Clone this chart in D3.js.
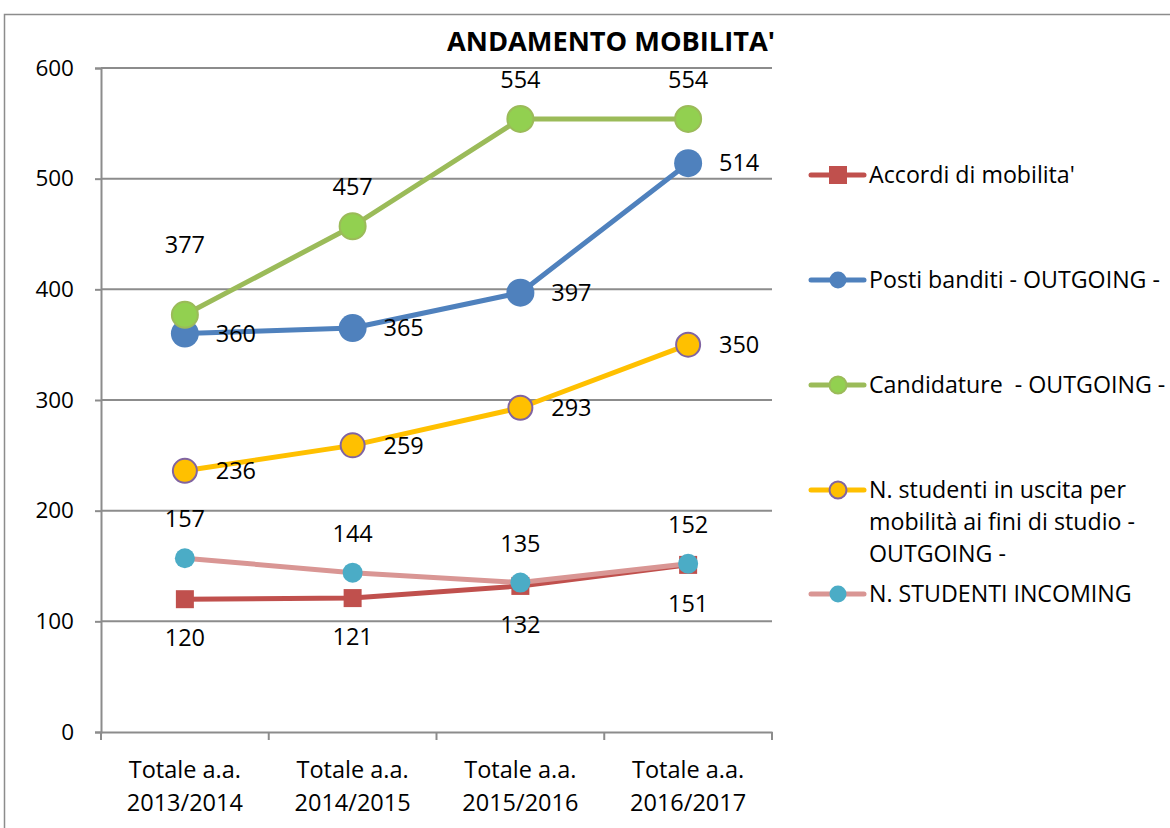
<!DOCTYPE html>
<html><head><meta charset="utf-8">
<script src="https://cdn.jsdelivr.net/npm/d3@7"></script>
<style>body{margin:0;background:#fff;} svg{display:block;font-family:"Open Sans","Noto Sans",sans-serif;}</style>
</head><body><svg id="c" width="1170" height="828"></svg>
<script>
const categories = ["Totale a.a.\n2013/2014","Totale a.a.\n2014/2015","Totale a.a.\n2015/2016","Totale a.a.\n2016/2017"];
const accordi = [120,121,132,151];
const posti = [360,365,397,514];
const candidature = [377,457,554,554];
const uscita = [236,259,293,350];
const incoming = [157,144,135,152];
const yTicks = [0,100,200,300,400,500,600];
const seriesNames = ["Accordi di mobilita'","Posti banditi - OUTGOING -","Candidature  - OUTGOING -","N. studenti in uscita per\nmobilità ai fini di studio -\nOUTGOING -","N. STUDENTI INCOMING"];

const svg = d3.select("#c");
svg.append("rect").attr("x",4.5).attr("y",14.5).attr("width",1200).attr("height",900).attr("fill","none").attr("stroke","#8c8c8c").attr("stroke-width",1.5);

const x = d3.scaleBand().domain(d3.range(categories.length)).range([101,772]);
const y = d3.scaleLinear().domain([0,600]).range([732,68]);

// grid
svg.append("g").selectAll("line").data(yTicks.filter(d=>d>0)).join("line")
 .attr("x1",101).attr("x2",772).attr("y1",d=>y(d)).attr("y2",d=>y(d)).attr("stroke","#8c8c8c").attr("stroke-width",2);

// y axis
const yAx = svg.append("g").attr("transform","translate(101,0)").call(d3.axisLeft(y).tickValues(yTicks).tickSize(6).tickPadding(21));
yAx.select(".domain").attr("stroke","#8c8c8c").attr("stroke-width",2);
yAx.selectAll(".tick line").attr("stroke","#8c8c8c").attr("stroke-width",2);
yAx.selectAll("text").attr("font-size",22.5).attr("fill","#000").attr("font-family","Open Sans");

// x axis
const xAx = svg.append("g").attr("transform","translate(0,732)").call(d3.axisBottom(x).tickSize(0).tickFormat(""));
xAx.select(".domain").attr("stroke","#8c8c8c").attr("stroke-width",2);
const bounds = d3.range(categories.length+1).map(i=>101+i*x.step());
svg.append("g").selectAll("line").data(bounds).join("line").attr("x1",d=>d).attr("x2",d=>d).attr("y1",732).attr("y2",740).attr("stroke","#8c8c8c").attr("stroke-width",2);
categories.forEach((c,i)=>{
  const t = svg.append("text").attr("x",x(i)+x.bandwidth()/2).attr("text-anchor","middle").attr("font-size",23.5).attr("fill","#000");
  c.split("\n").forEach((l,j)=>t.append("tspan").attr("x",x(i)+x.bandwidth()/2).attr("y",778+j*33).text(l));
});

// title
svg.append("text").attr("x",611).attr("y",51).attr("text-anchor","middle").attr("font-size",27).attr("font-weight","bold").attr("fill","#000").attr("textLength",328).attr("lengthAdjust","spacingAndGlyphs").text("ANDAMENTO MOBILITA'");

const cx = i=>x(i)+x.bandwidth()/2;
const series = [
 {vals:accordi, line:"#C0504D", fill:"#C0504D", stroke:"none", shape:"square", size:18, lab:"below"},
 {vals:posti, line:"#4F81BD", fill:"#4F81BD", stroke:"none", shape:"circle", r:14, lab:"right"},
 {vals:candidature, line:"#9BBB59", fill:"#92D050", stroke:"#9BBB59", shape:"circle", r:13, lab:"above"},
 {vals:uscita, line:"#FFC000", fill:"#FFC000", stroke:"#8064A2", shape:"circle", r:12, lab:"right"},
 {vals:incoming, line:"#D99694", fill:"#4BACC6", stroke:"none", shape:"circle", r:10, lab:"above"}
];
const order = [0,4,3,1,2];
const lineGen = d3.line().x((d,i)=>cx(i)).y(d=>y(d));
function marker(g, s, px, py){
  if(s.shape==="square"){
    g.append("rect").attr("x",px-s.size/2).attr("y",py-s.size/2).attr("width",s.size).attr("height",s.size).attr("fill",s.fill);
  } else {
    g.append("circle").attr("cx",px).attr("cy",py).attr("r",s.r).attr("fill",s.fill).attr("stroke",s.stroke).attr("stroke-width",s.stroke==="none"?0:2);
  }
}
const plot = svg.append("g");
order.forEach(k=>{
  const s = series[k];
  plot.append("path").datum(s.vals).attr("d",lineGen).attr("fill","none").attr("stroke",s.line).attr("stroke-width",5).attr("stroke-linejoin","round");
  s.vals.forEach((v,i)=>marker(plot,s,cx(i),y(v)));
});
// labels
const labG = svg.append("g").attr("font-size",23.5).attr("fill","#000");
series.forEach((s,k)=>{
  s.vals.forEach((v,i)=>{
    let px=cx(i), py=y(v), anchor="middle";
    if(s.lab==="below"){ py+=39; }
    else if(s.lab==="above"){ py-=39; if(k===2&&i===0) py-=31; }
    else { px+=51; }
    labG.append("text").attr("x",px).attr("y",py).attr("dy","0.35em").attr("text-anchor",anchor).text(v);
  });
});

// legend
const legY = [175,280,385,490,594];
const leg = svg.append("g");
series.forEach((s,k)=>{
  const ly = legY[k];
  leg.append("line").attr("x1",811).attr("x2",864).attr("y1",ly).attr("y2",ly).attr("stroke",s.line).attr("stroke-width",5).attr("stroke-linecap","round");
  const ms = Object.assign({},s);
  if(ms.shape==="square") ms.size=18; else ms.r = 8.5;
  marker(leg, ms, 838, ly);
  const t = leg.append("text").attr("font-size",23.2).attr("fill","#000").style("white-space","pre");
  seriesNames[k].split("\n").forEach((l,j)=>t.append("tspan").attr("x",869).attr("y",ly+j*32).attr("dy","0.35em").text(l));
});
</script></body></html>
